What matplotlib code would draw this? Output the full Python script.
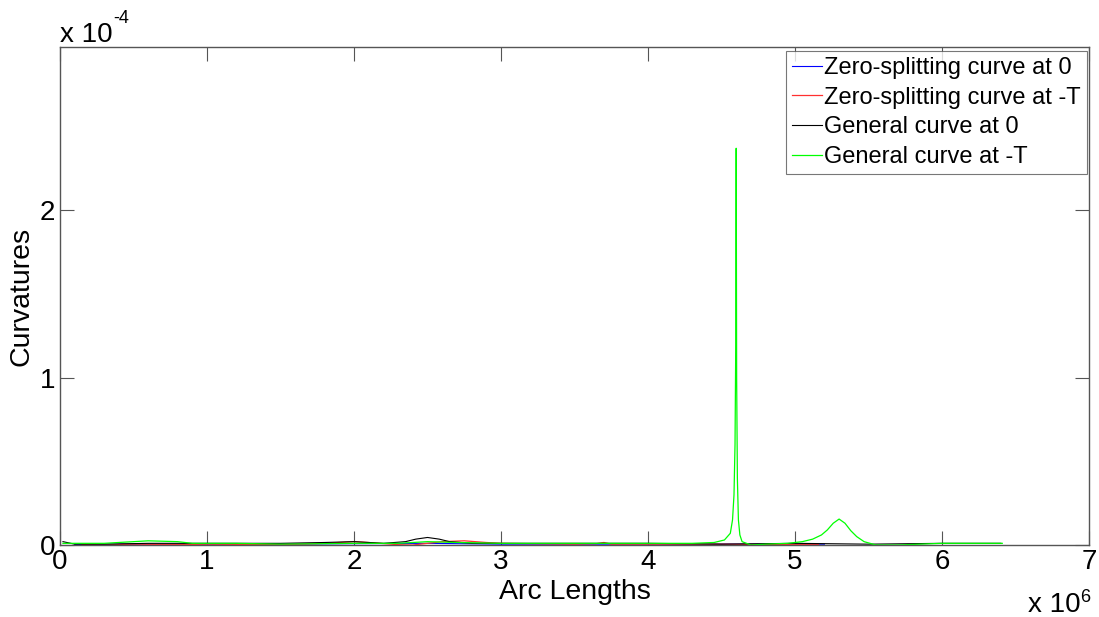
import numpy as np
import matplotlib
matplotlib.use('Agg')
import matplotlib.pyplot as plt
from matplotlib.ticker import FuncFormatter

# arc lengths in units of 1e6, curvatures in units of 1e-4
blue_x = [0.10, 0.5, 1.0, 1.5, 2.0, 2.5, 3.0, 3.5, 4.0, 4.5, 5.0, 5.20]
blue_y = [0.005, 0.005, 0.005, 0.005, 0.008, 0.01, 0.005, 0.005, 0.005, 0.005, 0.005, 0.005]

red_x = [0.15, 0.3, 0.5, 0.8, 1.0, 1.5, 1.8, 2.0, 2.1, 2.3, 2.4, 2.5, 2.6, 2.75,
         2.9, 3.0, 3.5, 3.65, 3.7, 3.75, 4.0, 4.5, 4.9, 5.16]
red_y = [0.002, 0.0, 0.005, 0.002, 0.005, 0.002, 0.01, 0.02, 0.015, 0.002, 0.0, 0.01,
         0.02, 0.025, 0.015, 0.01, 0.005, 0.008, 0.015, 0.005, 0.005, 0.005, 0.002, 0.002]

black_x = [0.02, 0.1, 0.3, 0.6, 1.0, 1.5, 1.8, 2.0, 2.2, 2.35, 2.42, 2.5, 2.58, 2.65,
           2.8, 3.0, 3.5, 4.0, 4.5, 5.0, 5.5, 6.0, 6.4]
black_y = [0.02, 0.005, 0.005, 0.01, 0.01, 0.01, 0.015, 0.02, 0.01, 0.02, 0.035, 0.045,
           0.035, 0.02, 0.01, 0.01, 0.01, 0.01, 0.005, 0.01, 0.005, 0.01, 0.01]

green_x = [0.02, 0.3, 0.5, 0.6, 0.8, 0.9, 1.2, 1.5, 2.0, 2.3, 2.5, 2.7, 3.0, 3.5, 4.0,
           4.3, 4.45, 4.52, 4.56, 4.575, 4.585, 4.592, 4.597, 4.600, 4.603, 4.608,
           4.615, 4.625, 4.64, 4.7, 4.8, 4.95, 5.05, 5.12, 5.18, 5.22, 5.26, 5.30,
           5.34, 5.38, 5.42, 5.47, 5.55, 5.7, 6.0, 6.41]
green_y = [0.01, 0.01, 0.02, 0.025, 0.02, 0.01, 0.01, 0.005, 0.01, 0.01, 0.02, 0.015,
           0.01, 0.01, 0.01, 0.01, 0.015, 0.03, 0.07, 0.15, 0.3, 0.6, 1.2, 2.37, 1.0,
           0.4, 0.15, 0.06, 0.02, 0.0, 0.005, 0.01, 0.02, 0.035, 0.06, 0.09, 0.13,
           0.155, 0.13, 0.085, 0.05, 0.02, 0.0, 0.0, 0.01, 0.01]

labels = ['Zero-splitting curve at 0', 'Zero-splitting curve at -T',
          'General curve at 0', 'General curve at -T']

plt.rcParams['font.family'] = ['Liberation Sans', 'DejaVu Sans']

fig = plt.figure(figsize=(10.99, 6.17), dpi=100)
ax = fig.add_axes([60 / 1099, 72 / 617, 1029 / 1099, 498 / 617])

xs, ys = 1e6, 1e-4
ax.plot(np.array(blue_x) * xs, np.array(blue_y) * ys, color='#0000ff', lw=0.8, label=labels[0])
ax.plot(np.array(red_x) * xs, np.array(red_y) * ys, color='#ff3030', lw=0.9, label=labels[1])
ax.plot(np.array(black_x) * xs, np.array(black_y) * ys, color='black', lw=0.8, label=labels[2])
ax.plot(np.array(green_x) * xs, np.array(green_y) * ys, color='#00ff00', lw=0.9, label=labels[3])

ax.set_xlim(0, 7e6)
ax.set_ylim(0, 2.975e-4)
ax.set_xticks(np.arange(0, 8) * 1e6)
ax.set_yticks([0, 1e-4, 2e-4])
ax.xaxis.set_major_formatter(FuncFormatter(lambda v, p: '%d' % round(v / 1e6)))
ax.yaxis.set_major_formatter(FuncFormatter(lambda v, p: '%d' % round(v / 1e-4)))
ax.tick_params(direction='in', length=10, width=0.8, color='#555555',
               labelsize=20, top=True, right=True)
ax.tick_params(axis='x', pad=3)
ax.tick_params(axis='y', pad=3.5)
for s in ax.spines.values():
    s.set_color('#555555')
    s.set_linewidth(1.0)

ax.set_xlabel('Arc Lengths', fontsize=20.5, labelpad=3)
ax.set_ylabel('Curvatures', fontsize=20.5, labelpad=4)

fig.text(60 / 1099, 1 - 42 / 617, 'x 10', fontsize=20, ha='left', va='baseline')
fig.text(113 / 1099, 1 - 23 / 617, '-4', fontsize=13, ha='left', va='baseline')
fig.text(1028 / 1099, 1 - 612 / 617, 'x 10', fontsize=20, ha='left', va='baseline')
fig.text(1080 / 1099, 1 - 602 / 617, '6', fontsize=13, ha='left', va='baseline')

leg = ax.legend(loc='upper right', fontsize=17, frameon=True, fancybox=False,
                borderpad=0.25, handlelength=1.25, handletextpad=0.12, labelspacing=0.33,
                bbox_to_anchor=(1087 / 1099, 1 - 51 / 617), bbox_transform=fig.transFigure,
                borderaxespad=0, edgecolor='#555555')
leg.get_frame().set_linewidth(0.8)

fig.savefig('out.png', dpi=100, facecolor='white')
